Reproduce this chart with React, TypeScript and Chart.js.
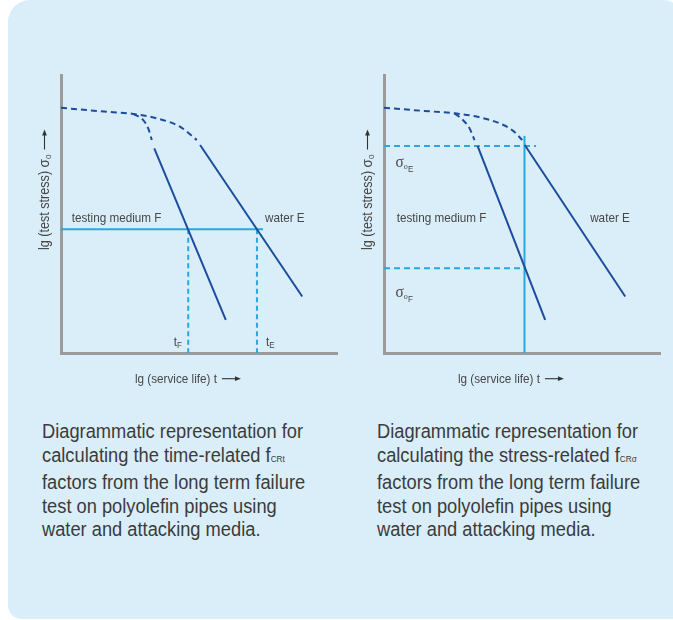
import React, { useEffect, useRef } from "react";
import { Chart, registerables } from "chart.js";

Chart.register(...registerables);

// ---------- colours & fonts ----------
const DARK = "#1c4c9c";
const CYAN = "#27a8e0";
const AXIS_GRAY = "#9b9b9b";
const LABEL = "#474747";
const CAPTION = "#3b3b3b";
const PANEL = "#d9eef9";
const SANS = "'Liberation Sans', Arial, sans-serif";
const SERIF = "'Liberation Serif', 'DejaVu Serif', serif";
const SX = 0.9; // horizontal condensing of the canvas labels
const CAPTION_SX = 0.914;

// ---------- left diagram (time-related) : axis units 0..100 ----------
const leftWaterDashX = [0, 9.3, 18.9, 26.2, 34.7, 43.1, 49.2];
const leftWaterDashY = [88.2, 87.4, 86.6, 86.0, 84.4, 81.4, 76.6];
const leftWaterSolidX = [50.4, 87.4];
const leftWaterSolidY = [74.8, 20.3];
const leftMediumDashX = [26.2, 29.8, 31.6, 32.9];
const leftMediumDashY = [86.0, 83.8, 80.8, 76.6];
const leftMediumSolidX = [33.8, 59.7];
const leftMediumSolidY = [73.6, 11.9];
const leftStressLevel = [44.5];
const leftStressLineX = [0, 73.2];
const leftFailureTimes = [46.1, 71.0]; // tF, tE

// ---------- right diagram (stress-related) ----------
const rightWaterDashX = [0, 14.1, 25.6, 34.6, 41.9, 46.7, 50.1];
const rightWaterDashY = [88.2, 87.1, 86.2, 84.8, 82.6, 80.0, 76.6];
const rightWaterSolidX = [51.0, 87.4];
const rightWaterSolidY = [74.8, 20.3];
const rightMediumDashX = [25.6, 28.6, 31.0, 32.8];
const rightMediumDashY = [86.2, 83.8, 80.8, 76.6];
const rightMediumSolidX = [33.9, 58.4];
const rightMediumSolidY = [74.5, 11.9];
const rightServiceLife = [50.9];
const rightServiceLineY = [0, 78.1];
const rightStressLevels = [74.5, 30.5]; // sigma oE, sigma oF
const rightStressLineEnds = [55.1, 50.9];

// ---------- captions ----------
const leftCaption = [
  "Diagrammatic representation for",
  "calculating the time-related f|CRt",
  "factors from the long term failure",
  "test on polyolefin pipes using",
  "water and attacking media.",
];
const rightCaption = [
  "Diagrammatic representation for",
  "calculating the stress-related f|CRσ",
  "factors from the long term failure",
  "test on polyolefin pipes using",
  "water and attacking media.",
];

type P = { x: number; y: number };
const zip = (xs: number[], ys: number[]): P[] => xs.map((x, i) => ({ x, y: ys[i] }));

function ds(data: P[], color: string, dash: number[], curved = false) {
  return {
    data,
    borderColor: color,
    backgroundColor: color,
    borderWidth: 2,
    borderDash: dash,
    pointRadius: 0,
    pointHoverRadius: 0,
    showLine: true,
    fill: false,
    tension: curved ? 0.4 : 0,
    cubicInterpolationMode: curved ? "monotone" : "default",
  };
}

type Part = { t: string; font: string; dy?: number };
function partsWidth(ctx: CanvasRenderingContext2D, parts: Part[]) {
  let w = 0;
  for (const p of parts) {
    ctx.font = p.font;
    w += ctx.measureText(p.t).width;
  }
  return w * SX;
}
function drawParts(ctx: CanvasRenderingContext2D, parts: Part[], x: number, y: number) {
  ctx.save();
  ctx.translate(x, y);
  ctx.scale(SX, 1);
  let cx = 0;
  for (const p of parts) {
    ctx.font = p.font;
    ctx.fillText(p.t, cx, p.dy || 0);
    cx += ctx.measureText(p.t).width;
  }
  ctx.restore();
  return x + cx * SX;
}
function arrow(ctx: CanvasRenderingContext2D, x0: number, y: number, len: number) {
  ctx.save();
  ctx.strokeStyle = "#333";
  ctx.fillStyle = "#333";
  ctx.lineWidth = 1.1;
  ctx.beginPath();
  ctx.moveTo(x0, y);
  ctx.lineTo(x0 + len - 4, y);
  ctx.stroke();
  ctx.beginPath();
  ctx.moveTo(x0 + len, y);
  ctx.lineTo(x0 + len - 6, y - 2.4);
  ctx.lineTo(x0 + len - 6, y + 2.4);
  ctx.closePath();
  ctx.fill();
  ctx.restore();
}

const f = (size: number, fam = SANS) => `${size}px ${fam}`;

function axisTitles(chart: any) {
  const ctx: CanvasRenderingContext2D = chart.ctx;
  const ca = chart.chartArea;
  ctx.save();
  ctx.fillStyle = LABEL;
  ctx.textBaseline = "alphabetic";
  ctx.textAlign = "left";
  // x title
  const xb = ca.bottom + 29.5;
  const xe = drawParts(ctx, [{ t: "lg (service life) t", font: f(13) }], ca.left + 74, xb);
  arrow(ctx, xe + 5, xb - 3.8, 19);
  // y title (rotated)
  ctx.translate(ca.left - 12.5, ca.bottom - 103);
  ctx.rotate(-Math.PI / 2);
  const ye = drawParts(
    ctx,
    [
      { t: "lg (test stress) ", font: f(14) },
      { t: "σ", font: f(15) },
      { t: "o", font: f(9), dy: 2 },
    ],
    0,
    0
  );
  arrow(ctx, ye + 5, -4, 20);
  ctx.restore();
}

function sigmaLabel(ctx: CanvasRenderingContext2D, x: number, y: number, sub: string) {
  drawParts(
    ctx,
    [
      { t: "σ", font: f(17, SERIF) },
      { t: "o", font: f(9, SERIF), dy: 2 },
      { t: sub, font: f(9), dy: 5 },
    ],
    x,
    y
  );
}

const leftLabels = {
  id: "leftLabels",
  afterDatasetsDraw(chart: any) {
    const ctx: CanvasRenderingContext2D = chart.ctx;
    const xs = chart.scales.x;
    const ys = chart.scales.y;
    axisTitles(chart);
    ctx.save();
    ctx.fillStyle = LABEL;
    ctx.textBaseline = "alphabetic";
    ctx.textAlign = "left";
    drawParts(ctx, [{ t: "testing medium F", font: f(13) }], xs.getPixelForValue(3.9), ys.getPixelForValue(47.0));
    drawParts(ctx, [{ t: "water E", font: f(13) }], xs.getPixelForValue(73.9), ys.getPixelForValue(47.0));
    const tF: Part[] = [
      { t: "t", font: f(13) },
      { t: "F", font: f(9), dy: 2 },
    ];
    const w = partsWidth(ctx, tF);
    drawParts(ctx, tF, xs.getPixelForValue(43.8) - w, ys.getPixelForValue(2.6));
    drawParts(
      ctx,
      [
        { t: "t", font: f(13) },
        { t: "E", font: f(9), dy: 2 },
      ],
      xs.getPixelForValue(74.3),
      ys.getPixelForValue(2.6)
    );
    ctx.restore();
  },
};

const rightLabels = {
  id: "rightLabels",
  afterDatasetsDraw(chart: any) {
    const ctx: CanvasRenderingContext2D = chart.ctx;
    const xs = chart.scales.x;
    const ys = chart.scales.y;
    axisTitles(chart);
    ctx.save();
    ctx.fillStyle = LABEL;
    ctx.textBaseline = "alphabetic";
    ctx.textAlign = "left";
    drawParts(ctx, [{ t: "testing medium F", font: f(13) }], xs.getPixelForValue(4.6), ys.getPixelForValue(47.0));
    drawParts(ctx, [{ t: "water E", font: f(13) }], xs.getPixelForValue(74.7), ys.getPixelForValue(47.0));
    sigmaLabel(ctx, xs.getPixelForValue(4.2), ys.getPixelForValue(66.9), "E");
    sigmaLabel(ctx, xs.getPixelForValue(4.2), ys.getPixelForValue(20.1), "F");
    ctx.restore();
  },
};

function baseOptions() {
  const axis = {
    type: "linear",
    min: 0,
    max: 100,
    display: true,
    grid: { display: false, drawTicks: false },
    ticks: { display: false },
    border: { display: true, color: AXIS_GRAY, width: 3 },
    title: { display: false },
  };
  return {
    responsive: false,
    animation: false,
    events: [],
    layout: { padding: { left: 61, top: 75, right: 8, bottom: 47 } },
    plugins: { legend: { display: false }, tooltip: { enabled: false } },
    scales: { x: { ...axis }, y: { ...axis } },
  };
}

function leftDatasets() {
  const [tF, tE] = leftFailureTimes;
  const s = leftStressLevel[0];
  return [
    ds(zip(leftWaterDashX, leftWaterDashY), DARK, [6, 4], true),
    ds(zip(leftWaterSolidX, leftWaterSolidY), DARK, []),
    ds(zip(leftMediumDashX, leftMediumDashY), DARK, [6, 4], true),
    ds(zip(leftMediumSolidX, leftMediumSolidY), DARK, []),
    ds(zip(leftStressLineX, [s, s]), CYAN, []),
    ds(zip([tF, tF], [s, 0]), CYAN, [5, 3.5]),
    ds(zip([tE, tE], [s, 0]), CYAN, [5, 3.5]),
  ];
}

function rightDatasets() {
  const t = rightServiceLife[0];
  const [sE, sF] = rightStressLevels;
  const [eE, eF] = rightStressLineEnds;
  return [
    ds(zip(rightWaterDashX, rightWaterDashY), DARK, [6, 4], true),
    ds(zip(rightWaterSolidX, rightWaterSolidY), DARK, []),
    ds(zip(rightMediumDashX, rightMediumDashY), DARK, [6, 4], true),
    ds(zip(rightMediumSolidX, rightMediumSolidY), DARK, []),
    ds(zip([t, t], rightServiceLineY), CYAN, []),
    ds(zip([0, eE], [sE, sE]), CYAN, [6, 4]),
    ds(zip([0, eF], [sF, sF]), CYAN, [6, 4]),
  ];
}

function Diagram({ left, datasets, plugin }: { left: number; datasets: any[]; plugin: any }) {
  const ref = useRef<HTMLCanvasElement | null>(null);
  useEffect(() => {
    if (!ref.current) return;
    const chart = new Chart(ref.current, {
      type: "scatter",
      data: { datasets },
      options: baseOptions() as any,
      plugins: [plugin],
    } as any);
    return () => chart.destroy();
  }, []);
  return (
    <canvas
      ref={ref}
      width={345}
      height={400}
      style={{ position: "absolute", left, top: 0, width: 345, height: 400 }}
    />
  );
}

function Caption({ lines, left }: { lines: string[]; left: number }) {
  return (
    <div
      style={{
        position: "absolute",
        left,
        top: 420,
        fontFamily: SANS,
        fontSize: 20,
        lineHeight: "23.5px",
        color: CAPTION,
        whiteSpace: "nowrap",
        transform: `scaleX(${CAPTION_SX})`,
        transformOrigin: "0 0",
      }}
    >
      {lines.map((l, i) => {
        const [main, sub] = l.split("|");
        return (
          <div key={i}>
            {main}
            {sub ? <span style={{ fontSize: 9 }}>{sub}</span> : null}
          </div>
        );
      })}
    </div>
  );
}

export default function App() {
  return (
    <div
      style={{
        position: "fixed",
        left: 0,
        top: 0,
        width: 673,
        height: 620,
        background: "#ffffff",
        overflow: "hidden",
      }}
    >
      <div
        style={{
          position: "absolute",
          left: 8,
          top: 0,
          width: 672,
          height: 619,
          background: PANEL,
          borderRadius: "22px 16px 0 14px",
        }}
      />
      <Diagram left={0} datasets={leftDatasets()} plugin={leftLabels} />
      <Diagram left={323} datasets={rightDatasets()} plugin={rightLabels} />
      <Caption lines={leftCaption} left={42} />
      <Caption lines={rightCaption} left={377} />
    </div>
  );
}
